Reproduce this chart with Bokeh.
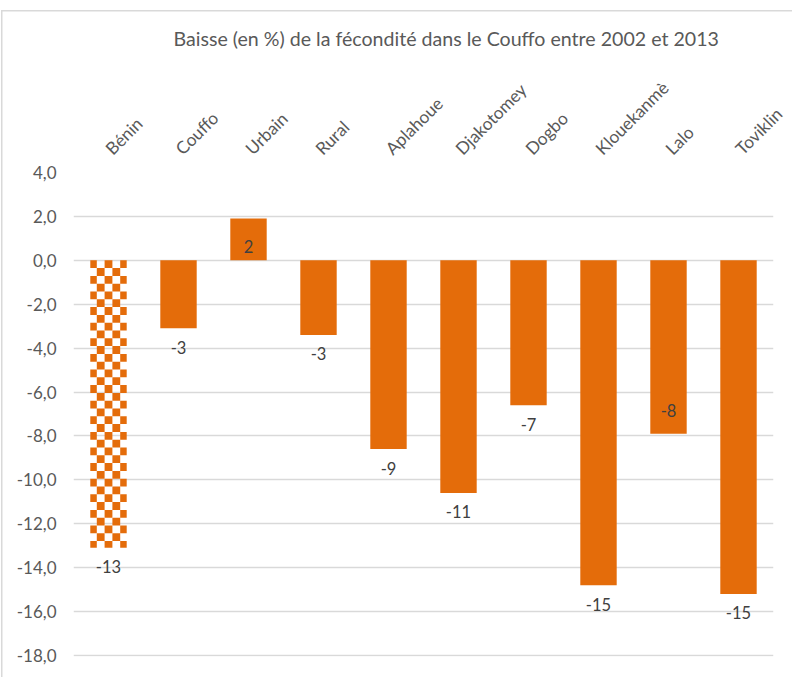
import math
from bokeh.plotting import figure
from bokeh.models import ColumnDataSource, FixedTicker, Range1d, FactorRange
from bokeh.core.properties import value
from bokeh.embed import file_html
from bokeh.resources import INLINE

# ---- data ----
title_text = "Baisse (en %) de la fécondité dans le Couffo entre 2002 et 2013"
categories = ["Bénin", "Couffo", "Urbain", "Rural", "Aplahoue", "Djakotomey",
              "Dogbo", "Klouekanmè", "Lalo", "Toviklin"]
values = [-13.1, -3.1, 1.9, -3.4, -8.6, -10.6, -6.6, -14.8, -7.9, -15.2]
y_ticks = [4, 2, 0, -2, -4, -6, -8, -10, -12, -14, -16, -18]
y_tick_labels = ["4,0", "2,0", "0,0", "-2,0", "-4,0", "-6,0", "-8,0",
                 "-10,0", "-12,0", "-14,0", "-16,0", "-18,0"]
patterned = ["Bénin"]
labels_inside = ["Urbain", "Lalo"]

# ---- styles ----
ORANGE = "#E46C0A"
FONT = "Lato"
BAR_W = 0.52
Y_MIN, Y_MAX = -18.05, 4
FRAME_W, FRAME_H = 700, 484
CHECK_PX = 7.8

plain = {k: [] for k in ("cat", "val")}
for c, v in zip(categories, values):
    if c not in patterned:
        plain["cat"].append(c)
        plain["val"].append(v)

label_text = [f"{v:.0f}" for v in values]
offsets = []
for c, v in zip(categories, values):
    if c in labels_inside:
        offsets.append(28 if v > 0 else -23)
    else:
        offsets.append(19 if v < 0 else -19)

lab_src = ColumnDataSource(dict(cat=categories, val=values, lab=label_text, yoff=offsets))

p = figure(x_range=FactorRange(*categories), y_range=Range1d(Y_MIN, Y_MAX),
           width=792, height=677, output_backend="svg", toolbar_location=None,
           x_axis_location="above", min_border_left=73, min_border_right=19,
           min_border_bottom=21, min_border_top=172)

p.title.text = title_text
p.title.text_font = FONT
p.title.text_font_size = "19.6px"
p.title.text_font_style = "normal"
p.title.text_color = "#595959"
p.title.align = "left"
p.title.offset = 100
p.title.standoff = 33

p.outline_line_color = None
p.background_fill_color = "white"
p.border_fill_color = None
p.styles = {
    "background-color": "white",
    "background-image": "linear-gradient(#D9D9D9, #D9D9D9), linear-gradient(#D9D9D9, #D9D9D9)",
    "background-position": "1px 10px, 1px 10px",
    "background-size": "1.5px 700px, 900px 1.5px",
    "background-repeat": "no-repeat, no-repeat",
}

# plain bars
p.vbar(x="cat", top="val", bottom=0, width=BAR_W, source=ColumnDataSource(plain),
       fill_color=ORANGE, line_color=None)

# checkerboard bar(s)
ux = len(categories) / FRAME_W * CHECK_PX        # square width in x units
uy = (Y_MAX - Y_MIN) / FRAME_H * CHECK_PX         # square height in y units
sq = dict(left=[], right=[], top=[], bottom=[])
for i, (c, v) in enumerate(zip(categories, values)):
    if c not in patterned:
        continue
    cx = i + 0.5
    bl, br = cx - BAR_W / 2, cx + BAR_W / 2
    nrows = int(math.ceil(abs(v) / uy))
    sgn = -1 if v < 0 else 1
    for r in range(nrows):
        y0 = sgn * r * uy
        y1 = sgn * min((r + 1) * uy, abs(v))
        for k in range(-3, 4):
            if (k + r) % 2:
                continue
            l = max(cx + (k - 0.5) * ux, bl)
            rr = min(cx + (k + 0.5) * ux, br)
            if rr <= l:
                continue
            sq["left"].append(l)
            sq["right"].append(rr)
            sq["top"].append(max(y0, y1))
            sq["bottom"].append(min(y0, y1))
p.quad(left="left", right="right", top="top", bottom="bottom",
       source=ColumnDataSource(sq), fill_color=ORANGE, line_color=None)

p.text(x="cat", y="val", text="lab", y_offset="yoff", source=lab_src,
       text_align="center", text_baseline="middle",
       text_font=value(FONT), text_font_size=value("16.5px"), text_color="#404040")

# y axis
yax = p.yaxis[0]
yax.ticker = FixedTicker(ticks=y_ticks)
yax.major_label_overrides = {t: l for t, l in zip(y_ticks, y_tick_labels)}
yax.axis_line_color = None
yax.major_tick_line_color = None
yax.minor_tick_line_color = None
yax.major_tick_out = 0
yax.major_label_standoff = 17
yax.major_label_text_font = FONT
yax.major_label_text_font_size = "17px"
yax.major_label_text_color = "#595959"

# x axis (category labels on top)
xax = p.xaxis[0]
xax.axis_line_color = None
xax.major_tick_line_color = None
xax.major_tick_out = 0
xax.major_label_standoff = 21
xax.major_label_orientation = math.pi / 4
xax.major_label_text_font = FONT
xax.major_label_text_font_size = "17.3px"
xax.major_label_text_color = "#595959"

p.xgrid.grid_line_color = None
p.ygrid.ticker = FixedTicker(ticks=y_ticks)
p.ygrid.grid_line_color = "#D9D9D9"
p.ygrid.grid_line_width = 1.5

open("out.html", "w").write(file_html(p, INLINE))
